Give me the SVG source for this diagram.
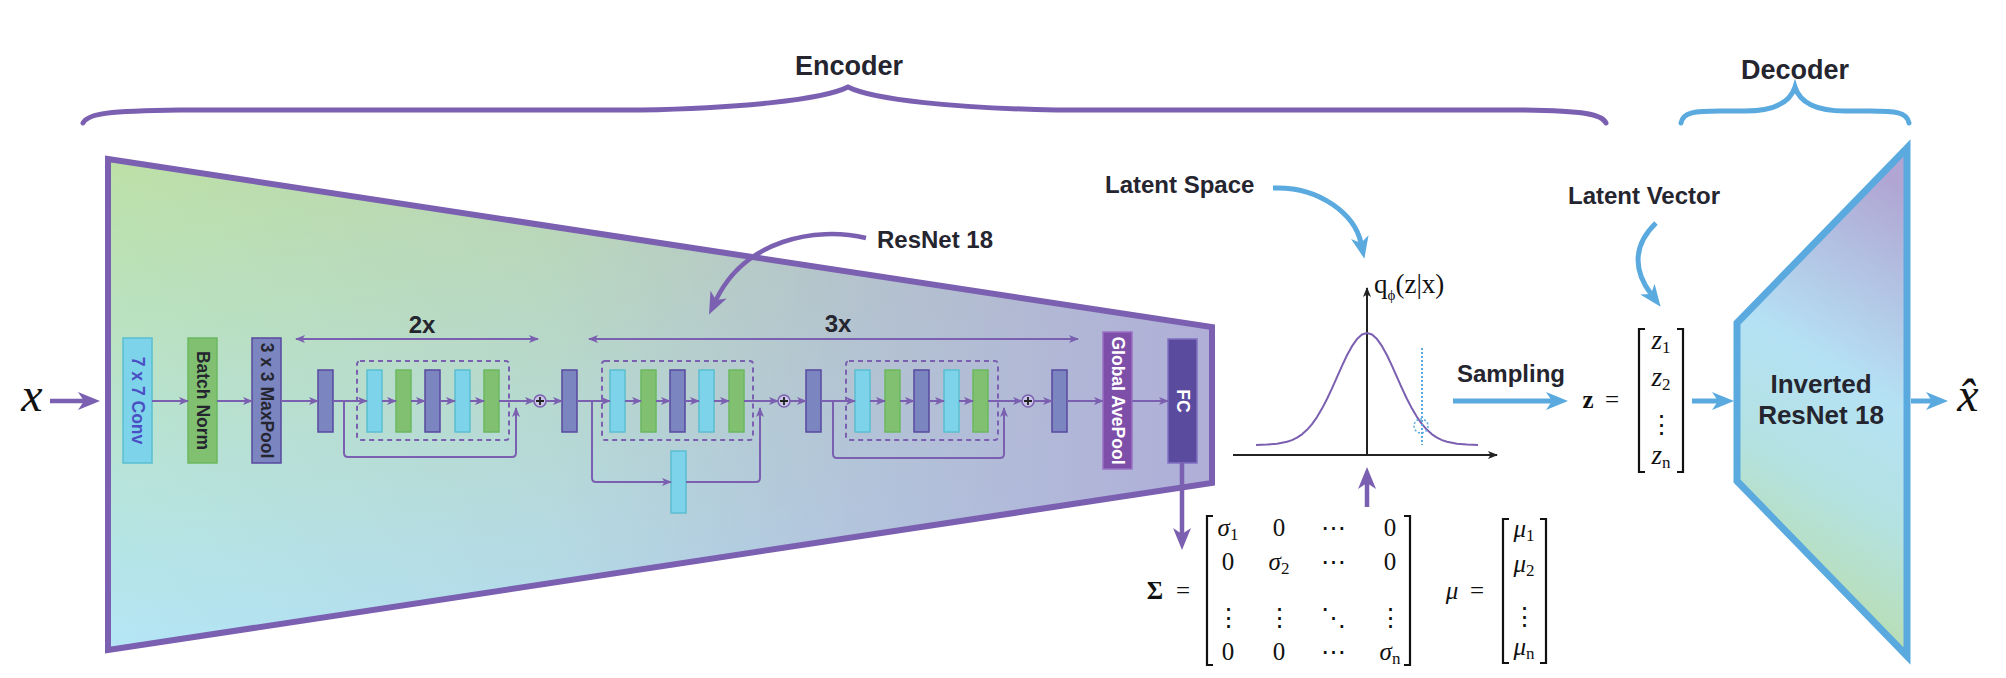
<svg xmlns="http://www.w3.org/2000/svg" width="2006" height="678" viewBox="0 0 2006 678">
<style>
.lbl{font-family:"Liberation Sans",Arial,sans-serif;font-weight:bold;fill:#25252f}
.rot{font-family:"Liberation Sans",Arial,sans-serif;font-weight:bold;font-size:17.5px}
.math{font-family:"Liberation Serif","DejaVu Serif",serif;font-size:25px;fill:#111}
.big{font-size:48px}
.it{font-style:italic}
.sub{font-size:17px}
.cy{fill:#7dd3ea;stroke:#5bbfd0;stroke-width:1.5}
.gr{fill:#80c070;stroke:#6cb860;stroke-width:1.5}
.sl{fill:#7b85bf;stroke:#5848a0;stroke-width:1.5}
.dash{fill:none;stroke:#7b5fb0;stroke-width:2;stroke-dasharray:5 4}
.flow{fill:none;stroke:#7b5fb0;stroke-width:2;marker-end:url(#sm)}
.plain{fill:none;stroke:#7b5fb0;stroke-width:2}
.bigp{fill:none;stroke:#7b5fb0;stroke-width:4.5;marker-end:url(#bp)}
.bigb{fill:none;stroke:#5aaadf;stroke-width:5;marker-end:url(#bb)}
.brk{fill:none;stroke:#111;stroke-width:2.2}
.plus{fill:#c9c3e8;stroke:#7b5fb0;stroke-width:1.5}
</style>
<defs>
<linearGradient id="encV" x1="0" y1="0" x2="0" y2="1">
<stop offset="0" stop-color="#bde0a6"/>
<stop offset="1" stop-color="#b4e6f6"/>
</linearGradient>
<linearGradient id="encH" x1="0" y1="0" x2="1" y2="0">
<stop offset="0" stop-color="#b0b0d9" stop-opacity="0"/>
<stop offset="0.4" stop-color="#b0b0d9" stop-opacity="0.2"/>
<stop offset="0.7" stop-color="#b0b0d9" stop-opacity="0.65"/>
<stop offset="1" stop-color="#afaed8" stop-opacity="1"/>
</linearGradient>
<linearGradient id="dec" x1="0.6" y1="0" x2="0.4" y2="1">
<stop offset="0" stop-color="#b0a5d3"/>
<stop offset="0.42" stop-color="#b5e1f4"/>
<stop offset="0.65" stop-color="#b4e2e2"/>
<stop offset="1" stop-color="#badc9e"/>
</linearGradient>
<marker id="sm" viewBox="0 0 10 8" markerWidth="10" markerHeight="8" refX="9" refY="4" orient="auto" markerUnits="userSpaceOnUse">
<path d="M0,0 L10,4 L0,8 L2.5,4 z" fill="#7b5fb0"/>
</marker>
<marker id="sm2" viewBox="0 0 10 8" markerWidth="10" markerHeight="8" refX="9" refY="4" orient="auto-start-reverse" markerUnits="userSpaceOnUse">
<path d="M0,0 L10,4 L0,8 L2.5,4 z" fill="#7b5fb0"/>
</marker>
<marker id="bp" viewBox="0 0 22 18" markerWidth="22" markerHeight="18" refX="6" refY="9" orient="auto" markerUnits="userSpaceOnUse">
<path d="M0,0 L22,9 L0,18 L6,9 z" fill="#7b5fb0"/>
</marker>
<marker id="bb" viewBox="0 0 22 18" markerWidth="22" markerHeight="18" refX="6" refY="9" orient="auto" markerUnits="userSpaceOnUse">
<path d="M0,0 L22,9 L0,18 L6,9 z" fill="#5aaadf"/>
</marker>
<marker id="ax" viewBox="0 0 10 8" markerWidth="10" markerHeight="8" refX="9" refY="4" orient="auto" markerUnits="userSpaceOnUse">
<path d="M0,0 L10,4 L0,8 L2.5,4 z" fill="#222"/>
</marker>
</defs>
<rect width="2006" height="678" fill="#fff"/>

<g id="encoder-brace">
<path d="M83,123 C88,113 110,111 180,110 L640,110 C740,108 822,100 848,87 C874,100 956,108 1056,110 L1520,110 C1585,111 1602,114 1606,123" fill="none" stroke="#7b5fb0" stroke-width="5" stroke-linecap="round"/>
<text class="lbl" x="849" y="75" font-size="27" text-anchor="middle">Encoder</text>
</g>
<g id="decoder-brace">
<path d="M1681,123 C1683,112 1695,111 1720,111 L1745,111 C1772,111 1790,103 1795,87 C1800,103 1818,111 1845,111 L1870,111 C1895,111 1907,112 1909,123" fill="none" stroke="#5aaadf" stroke-width="5" stroke-linecap="round"/>
<text class="lbl" x="1795" y="79" font-size="27" text-anchor="middle">Decoder</text>
</g>

<g id="encoder">
<polygon points="108,159 1212,327 1212,483 108,650" fill="url(#encV)"/>
<polygon points="108,159 1212,327 1212,483 108,650" fill="url(#encH)" stroke="#7b5fb0" stroke-width="6" stroke-linejoin="miter"/>
</g>

<g id="input-x">
<text class="math it big" x="32" y="411" text-anchor="middle">x</text>
</g>

<g id="conv7">
<rect class="cy" x="123" y="338" width="29" height="125"/>
<text class="rot" fill="#4a4fc4" transform="translate(137.5,400.5) rotate(90)" text-anchor="middle" dominant-baseline="central">7 x 7 Conv</text>
</g>
<g id="batchnorm">
<rect class="gr" x="188" y="338" width="29" height="125"/>
<text class="rot" fill="#25252f" transform="translate(202.5,400.5) rotate(90)" text-anchor="middle" dominant-baseline="central">Batch Norm</text>
</g>
<g id="maxpool">
<rect class="sl" x="252" y="338" width="29" height="125"/>
<text class="rot" fill="#25252f" transform="translate(266.5,400.5) rotate(90)" text-anchor="middle" dominant-baseline="central">3 x 3 MaxPool</text>
</g>

<g id="stage1">
<rect class="sl" x="318" y="370" width="15" height="62"/>
<rect class="dash" x="357" y="361" width="152" height="79" rx="3"/>
<rect class="cy" x="367" y="370" width="15" height="62"/>
<rect class="gr" x="396" y="370" width="15" height="62"/>
<rect class="sl" x="425" y="370" width="15" height="62"/>
<rect class="cy" x="455" y="370" width="15" height="62"/>
<rect class="gr" x="484" y="370" width="15" height="62"/>
<circle class="plus" cx="540" cy="401" r="6"/>
<path d="M536,401 H544 M540,397 V405" stroke="#222" stroke-width="1.8"/>
</g>

<g id="stage2">
<rect class="sl" x="562" y="370" width="15" height="62"/>
<rect class="dash" x="602" y="361" width="151" height="79" rx="3"/>
<rect class="cy" x="610" y="370" width="15" height="62"/>
<rect class="gr" x="641" y="370" width="15" height="62"/>
<rect class="sl" x="670" y="370" width="15" height="62"/>
<rect class="cy" x="699" y="370" width="15" height="62"/>
<rect class="gr" x="729" y="370" width="15" height="62"/>
<rect class="cy" x="671" y="451" width="15" height="62"/>
<circle class="plus" cx="784" cy="401" r="6"/>
<path d="M780,401 H788 M784,397 V405" stroke="#222" stroke-width="1.8"/>
</g>

<g id="stage3">
<rect class="sl" x="806" y="370" width="15" height="62"/>
<rect class="dash" x="846" y="361" width="152" height="79" rx="3"/>
<rect class="cy" x="855" y="370" width="15" height="62"/>
<rect class="gr" x="885" y="370" width="15" height="62"/>
<rect class="sl" x="914" y="370" width="15" height="62"/>
<rect class="cy" x="944" y="370" width="15" height="62"/>
<rect class="gr" x="973" y="370" width="15" height="62"/>
<circle class="plus" cx="1028" cy="401" r="6"/>
<path d="M1024,401 H1032 M1028,397 V405" stroke="#222" stroke-width="1.8"/>
<rect class="sl" x="1052" y="370" width="15" height="62"/>
</g>

<g id="global-avepool">
<rect x="1103" y="332" width="29" height="137" fill="#7e4fa8" stroke="#9a70c4" stroke-width="1.5"/>
<text class="rot" fill="#fff" transform="translate(1117.5,400.5) rotate(90)" text-anchor="middle" dominant-baseline="central">Global AvePool</text>
</g>
<g id="fc">
<rect x="1168" y="339" width="29" height="124" fill="#5b4b9f" stroke="#8070c2" stroke-width="1.5"/>
<text class="rot" fill="#fff" transform="translate(1182.5,401) rotate(90)" text-anchor="middle" dominant-baseline="central">FC</text>
</g>

<g id="repeat-labels">
<text class="lbl" x="422" y="333" font-size="24" text-anchor="middle">2x</text>
<text class="lbl" x="838" y="332" font-size="24" text-anchor="middle">3x</text>
<text class="lbl" x="877" y="248" font-size="24">ResNet 18</text>
</g>

<g id="latent-space">
<text class="lbl" x="1105" y="193" font-size="24">Latent Space</text>
<line x1="1233" y1="455" x2="1497" y2="455" stroke="#222" stroke-width="2" marker-end="url(#ax)"/>
<line x1="1367" y1="455" x2="1367" y2="288" stroke="#222" stroke-width="2" marker-end="url(#ax)"/>
<path d="M1256,445 L1267,444.6 L1277,443.8 L1287,441.8 L1292,440.1 L1297,437.6 L1302,434.3 L1307,429.8 L1312,424.1 L1317,417.1 L1322,408.6 L1327,399 L1332,388.3 L1337,377.1 L1342,365.9 L1347,355.3 L1352,346.2 L1357,339.1 L1362,334.5 L1367,333 L1372,334.5 L1377,339.1 L1382,346.2 L1387,355.3 L1392,365.9 L1397,377.1 L1402,388.3 L1407,399 L1412,408.6 L1417,417.1 L1422,424.1 L1427,429.8 L1432,434.3 L1437,437.6 L1442,440.1 L1447,441.8 L1457,443.8 L1467,444.6 L1478,445" fill="none" stroke="#7b5fb0" stroke-width="2" stroke-linejoin="round"/>
<line x1="1422" y1="348" x2="1422" y2="445" stroke="#5aaadf" stroke-width="2" stroke-dasharray="2 2"/>
<circle cx="1421" cy="426" r="7" fill="none" stroke="#5aaadf" stroke-width="1.5" stroke-dasharray="2 2"/>
<text class="math" x="1374" y="293" style="font-size:27px">q<tspan font-size="15" dy="7">ϕ</tspan><tspan dy="-7">(z|x)</tspan></text>
</g>

<g id="sigma-matrix" class="math">
<text x="1155" y="599" font-weight="bold" text-anchor="middle">Σ</text>
<text x="1183" y="599" text-anchor="middle">=</text>
<path class="brk" d="M1213,516 H1207 V665 H1213 M1404,516 H1410 V665 H1404"/>
<text x="1228" y="536" text-anchor="middle"><tspan class="it">σ</tspan><tspan class="sub" dy="4">1</tspan></text>
<text x="1279" y="536" text-anchor="middle">0</text>
<text x="1333" y="536" text-anchor="middle">⋯</text>
<text x="1390" y="536" text-anchor="middle">0</text>
<text x="1228" y="570" text-anchor="middle">0</text>
<text x="1279" y="570" text-anchor="middle"><tspan class="it">σ</tspan><tspan class="sub" dy="4">2</tspan></text>
<text x="1333" y="570" text-anchor="middle">⋯</text>
<text x="1390" y="570" text-anchor="middle">0</text>
<text x="1228" y="626" text-anchor="middle">⋮</text>
<text x="1279" y="626" text-anchor="middle">⋮</text>
<text x="1333" y="626" text-anchor="middle">⋱</text>
<text x="1390" y="626" text-anchor="middle">⋮</text>
<text x="1228" y="660" text-anchor="middle">0</text>
<text x="1279" y="660" text-anchor="middle">0</text>
<text x="1333" y="660" text-anchor="middle">⋯</text>
<text x="1390" y="660" text-anchor="middle"><tspan class="it">σ</tspan><tspan class="sub" dy="4">n</tspan></text>
</g>

<g id="mu-vector" class="math">
<text x="1452" y="599" class="it" text-anchor="middle">μ</text>
<text x="1477" y="599" text-anchor="middle">=</text>
<path class="brk" d="M1509,519 H1503 V663 H1509 M1540,519 H1546 V663 H1540"/>
<text x="1524" y="537" text-anchor="middle"><tspan class="it">μ</tspan><tspan class="sub" dy="4">1</tspan></text>
<text x="1524" y="572" text-anchor="middle"><tspan class="it">μ</tspan><tspan class="sub" dy="4">2</tspan></text>
<text x="1524" y="625" text-anchor="middle">⋮</text>
<text x="1524" y="655" text-anchor="middle"><tspan class="it">μ</tspan><tspan class="sub" dy="4">n</tspan></text>
</g>

<g id="sampling">
<text class="lbl" x="1457" y="382" font-size="24">Sampling</text>
</g>

<g id="z-vector" class="math">
<text class="lbl" x="1568" y="204" font-size="24">Latent Vector</text>
<text x="1588" y="408" font-weight="bold" text-anchor="middle">z</text>
<text x="1612" y="408" text-anchor="middle">=</text>
<path class="brk" d="M1645,329 H1639 V472 H1645 M1677,329 H1683 V472 H1677"/>
<text x="1661" y="349" text-anchor="middle" style="font-size:27px"><tspan class="it">z</tspan><tspan class="sub" dy="4">1</tspan></text>
<text x="1661" y="386" text-anchor="middle" style="font-size:27px"><tspan class="it">z</tspan><tspan class="sub" dy="4">2</tspan></text>
<text x="1661" y="433" text-anchor="middle">⋮</text>
<text x="1661" y="464" text-anchor="middle" style="font-size:27px"><tspan class="it">z</tspan><tspan class="sub" dy="4">n</tspan></text>
</g>

<g id="decoder">
<polygon points="1907,148 1737,323 1737,481 1907,656" fill="url(#dec)" stroke="#5aaadf" stroke-width="7" stroke-linejoin="miter"/>
<text class="lbl" x="1821" y="393" font-size="26" text-anchor="middle">Inverted</text>
<text class="lbl" x="1821" y="424" font-size="26" text-anchor="middle">ResNet 18</text>
</g>

<g id="output-xhat">
<text class="math it big" x="1968" y="411" text-anchor="middle">x̂</text>
</g>

<g id="connectors">
<line x1="50" y1="401" x2="84" y2="401" class="bigp" stroke-width="4"/>
<line class="flow" x1="152" y1="401" x2="188" y2="401"/>
<line class="flow" x1="217" y1="401" x2="252" y2="401"/>
<line class="flow" x1="281" y1="401" x2="318" y2="401"/>
<line class="flow" x1="333" y1="401" x2="367" y2="401"/>
<line class="flow" x1="382" y1="401" x2="396" y2="401"/>
<line class="flow" x1="411" y1="401" x2="425" y2="401"/>
<line class="flow" x1="440" y1="401" x2="455" y2="401"/>
<line class="flow" x1="470" y1="401" x2="484" y2="401"/>
<line class="flow" x1="499" y1="401" x2="534" y2="401"/>
<line class="flow" x1="546" y1="401" x2="562" y2="401"/>
<path class="flow" d="M344,401 V453 Q344,457 348,457 H512 Q516,457 516,453 V408"/>
<line class="flow" x1="577" y1="401" x2="610" y2="401"/>
<line class="flow" x1="625" y1="401" x2="641" y2="401"/>
<line class="flow" x1="656" y1="401" x2="670" y2="401"/>
<line class="flow" x1="685" y1="401" x2="699" y2="401"/>
<line class="flow" x1="714" y1="401" x2="729" y2="401"/>
<line class="flow" x1="744" y1="401" x2="778" y2="401"/>
<line class="flow" x1="790" y1="401" x2="806" y2="401"/>
<path class="flow" d="M592,401 V478 Q592,482 596,482 H671"/>
<path class="flow" d="M686,482 H756 Q760,482 760,478 V408"/>
<line class="flow" x1="821" y1="401" x2="855" y2="401"/>
<line class="flow" x1="870" y1="401" x2="885" y2="401"/>
<line class="flow" x1="900" y1="401" x2="914" y2="401"/>
<line class="flow" x1="929" y1="401" x2="944" y2="401"/>
<line class="flow" x1="959" y1="401" x2="973" y2="401"/>
<line class="flow" x1="988" y1="401" x2="1022" y2="401"/>
<line class="flow" x1="1034" y1="401" x2="1052" y2="401"/>
<path class="flow" d="M833,401 V454 Q833,458 837,458 H1000 Q1004,458 1004,454 V408"/>
<line class="flow" x1="1067" y1="401" x2="1103" y2="401"/>
<line class="flow" x1="1132" y1="401" x2="1168" y2="401"/>
<line class="plain" x1="296" y1="339" x2="538" y2="339" marker-start="url(#sm2)" marker-end="url(#sm2)"/>
<line class="plain" x1="589" y1="339" x2="1078" y2="339" marker-start="url(#sm2)" marker-end="url(#sm2)"/>
<path class="bigp" d="M866,238 C815,226 745,240 716,300"/>
<line class="bigp" x1="1182" y1="463" x2="1182" y2="534"/>
<line class="bigp" x1="1367" y1="507" x2="1367" y2="483"/>
<path class="bigb" d="M1273,188 C1320,186 1355,215 1361,243"/>
<path class="bigb" d="M1656,223 C1633,245 1633,270 1651,294"/>
<line class="bigb" x1="1453" y1="401" x2="1552" y2="401"/>
<line class="bigb" x1="1692" y1="401" x2="1718" y2="401"/>
<line class="bigb" x1="1911" y1="401" x2="1932" y2="401"/>
</g>
</svg>
